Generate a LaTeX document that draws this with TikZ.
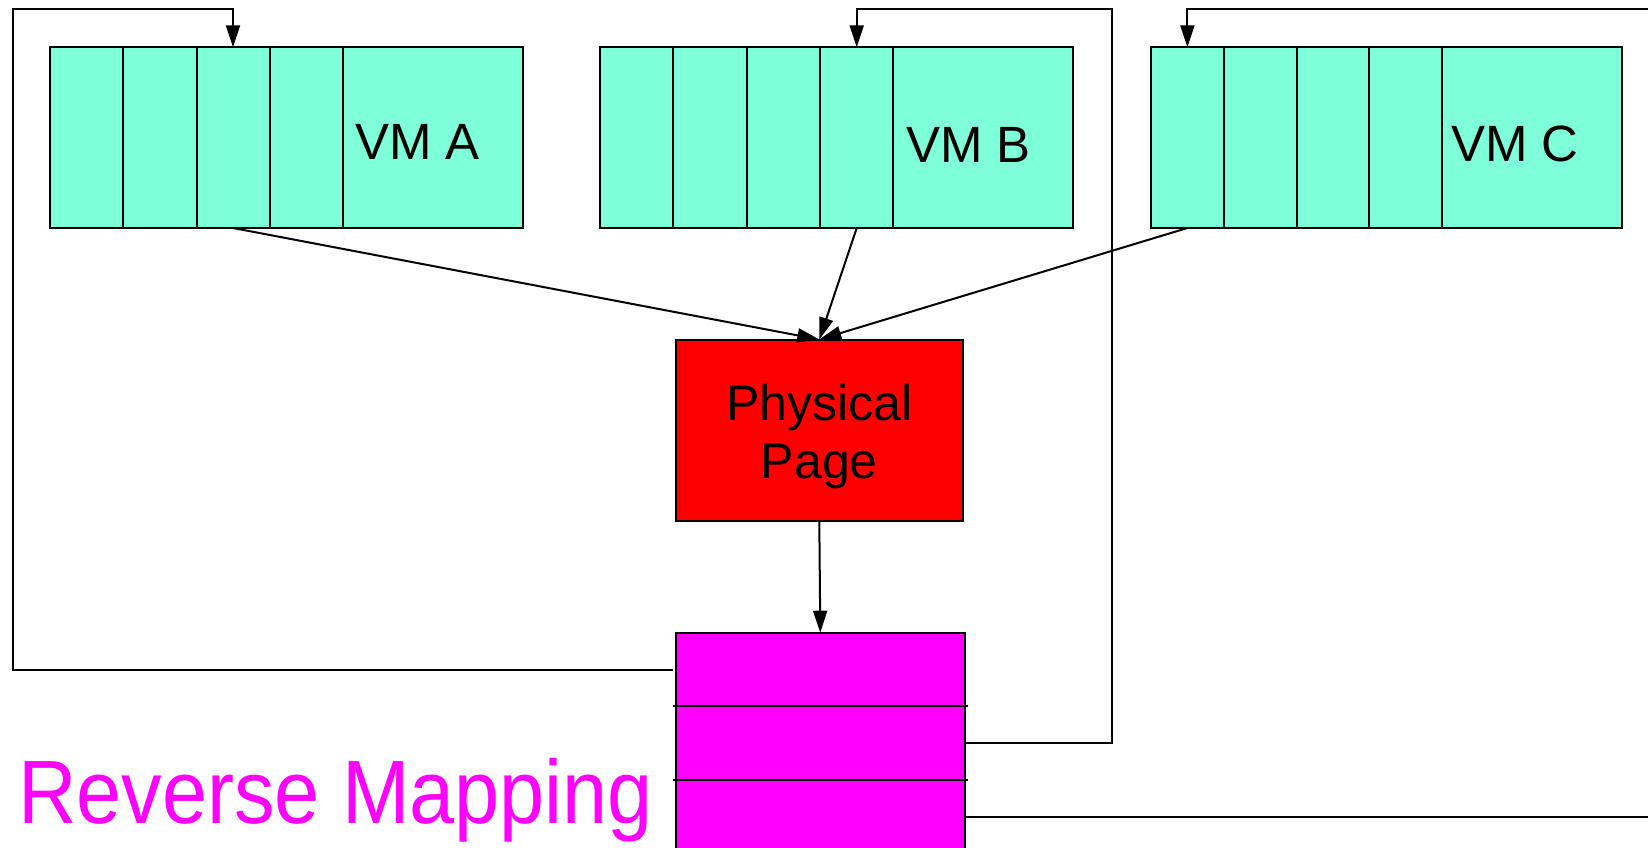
\documentclass[tikz,border=0pt]{standalone}
\usepackage{fontspec}
\setmainfont{Liberation Sans}
\usetikzlibrary{arrows.meta}

\definecolor{vmfill}{HTML}{7FFFD9}
\definecolor{pagefill}{HTML}{FF0000}
\definecolor{rmapfill}{HTML}{FF00FF}

\tikzset{
  wire/.style={line width=2pt, black},
  arr/.style={wire, -{Triangle[length=22pt,width=14pt]}},
  cell/.style={draw, line width=2pt, fill=vmfill, rectangle, anchor=north west,
    minimum width=73.1pt, minimum height=180.7pt, inner sep=0pt, outer sep=0pt},
  vmtag/.style={cell, minimum width=180pt},
  vmtext/.style={anchor=base west, inner sep=0pt, font=\fontsize{51}{58}\selectfont},
  pagebox/.style={draw, line width=2pt, fill=pagefill, rectangle, anchor=north west,
    minimum width=287pt, minimum height=181.8pt, inner sep=0pt, outer sep=0pt},
  pagetext/.style={align=center, inner sep=0pt, font=\fontsize{50}{58}\selectfont},
  rmrow/.style={draw, line width=2pt, fill=rmapfill, rectangle, anchor=north west,
    minimum width=289pt, minimum height=73.6pt, inner sep=0pt, outer sep=0pt},
}

\begin{document}
\begin{tikzpicture}[x=1pt, y=-1pt]
\useasboundingbox (0,0) rectangle (1648,848);
\clip (0,0) rectangle (1648,848);

% virtual memory areas: four page cells and a label cell each
\foreach \vm/\x/\w in {A/50.4/73.05, B/600/73.35, C/1151/72.75}{
  \foreach \i in {1,...,4}{
    \node[cell, minimum width=\w pt] (vm\vm\i) at ({\x+(\i-1)*\w}, 47.3) {};
  }
  \node[vmtag] (vm\vm tag) at ({\x+4*\w}, 47.3) {};
}
\node[vmtext] (labA) at (355, 159) {VM A};
\node[vmtext] (labB) at (906, 162) {VM B};
\node[vmtext] (labC) at (1451, 161) {VM C};

% the shared physical page
\node[pagebox] (phys) at (675.8, 339.5) {};
\node[pagetext] (physlabel) at ([yshift=-6pt]phys.center) {Physical\\Page};

% reverse mapping table
\node[rmrow] (rm1) at (675.8, 632.7) {};
\node[rmrow] (rm2) at (675.8, 706.3) {};
\node[rmrow] (rm3) at (675.8, 779.9) {};
\draw[wire] ([xshift=-3pt]rm2.north west) -- ([xshift=3pt]rm2.north east);
\draw[wire] ([xshift=-3pt]rm3.north west) -- ([xshift=3pt]rm3.north east);
\node[anchor=base west, inner sep=0pt, text=rmapfill, xscale=0.9,
  font=\fontsize{90}{96}\selectfont] (rmlabel) at (18, 823) {Reverse Mapping};

% page table entries pointing at the physical page
\draw[arr] (vmA3.south) -- (phys.north);
\draw[arr] (vmB4.south) -- (phys.north);
\draw[arr] (vmC1.south) -- (phys.north);
\draw[arr] (phys.south) -- (rm1.north);

% reverse mapping entries leading back to each mapping
\coordinate (loopA) at (12.6, 9.5);
\coordinate (loopB) at (1112, 9.5);
\coordinate (loopC) at (1700, 9.5);
\draw[arr] ([xshift=-3pt]rm1.west) -| (loopA) -| (vmA3.north);
\draw[arr] (rm2.east) -| (loopB) -| (vmB4.north);
\draw[arr] (rm3.east) -| (loopC) -| (vmC1.north);
\end{tikzpicture}
\end{document}
